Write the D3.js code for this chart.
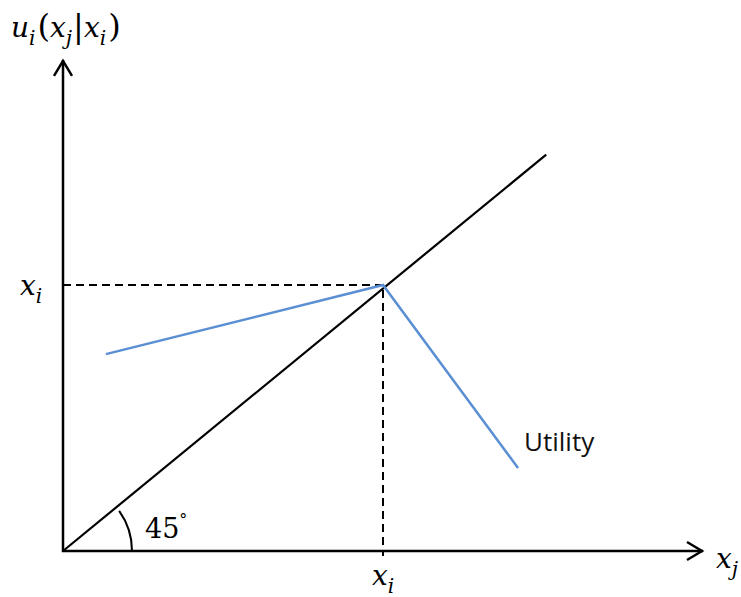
<!DOCTYPE html>
<html><head><meta charset="utf-8">
<script src="https://cdn.jsdelivr.net/npm/d3@7"></script>
<style>body{margin:0;background:#fff}</style>
</head><body>
<svg id="c" width="741" height="597"></svg>
<script>
// Data (units: x_i = 1)
const diagonal = [[0,0],[1.51,1.49]];
const utility = [[0.134,0.74],[1,1],[1.422,0.312]];
const xiValue = 1;
const axisXMax = 2.0;
const axisYMax = 1.846;
const angleLabel = "45";
const seriesLabel = "Utility";

const svg = d3.select("#c");
const x = d3.scaleLinear().domain([0,1]).range([63,383]);
const y = d3.scaleLinear().domain([0,1]).range([551,285]);
const line = d3.line().x(d=>x(d[0])).y(d=>y(d[1]));

// axes
svg.append("path").attr("d", line([[0,axisYMax],[0,0],[axisXMax,0]]))
  .attr("fill","none").attr("stroke","#000").attr("stroke-width",2.5);
// arrowheads
const yt = y(axisYMax), xt = x(axisXMax);
svg.append("path").attr("d",`M${x(0)-9},${yt+16}L${x(0)},${yt+1}L${x(0)+9},${yt+16}`)
  .attr("fill","none").attr("stroke","#000").attr("stroke-width",2.5);
svg.append("path").attr("d",`M${xt-16},${y(0)-9}L${xt-1},${y(0)}L${xt-16},${y(0)+9}`)
  .attr("fill","none").attr("stroke","#000").attr("stroke-width",2.5);

// dashed guides
svg.append("path").attr("d", line([[0,xiValue],[xiValue,xiValue],[xiValue,0]]))
  .attr("fill","none").attr("stroke","#000").attr("stroke-width",2).attr("stroke-dasharray","8,5");
svg.append("line").attr("x1",x(xiValue)).attr("x2",x(xiValue)).attr("y1",y(0)).attr("y2",y(0)+5)
  .attr("stroke","#000").attr("stroke-width",2);

// diagonal
svg.append("path").attr("d", line(diagonal)).attr("fill","none").attr("stroke","#000").attr("stroke-width",2.2);

// utility
svg.append("path").attr("d", line(utility)).attr("fill","none").attr("stroke","#5b8fd3").attr("stroke-width",2.5);

// angle arc
const r = 69;
const arc = d3.arc().innerRadius(r).outerRadius(r).startAngle(Math.PI/2 - 0.62).endAngle(Math.PI/2);
svg.append("path").attr("d", arc()).attr("transform",`translate(${x(0)},${y(0)})`)
  .attr("fill","none").attr("stroke","#000").attr("stroke-width",2);

const serif = "'DejaVu Serif', 'Liberation Serif', serif";
function mathText(px, py, parts, size, anchor){
  const t = svg.append("text").attr("x",px).attr("y",py).attr("font-family",serif)
    .attr("font-size",size).attr("text-anchor",anchor||"start");
  parts.forEach(p=>{
    const s = t.append("tspan").text(p.t);
    if(p.i) s.attr("font-style","italic");
    if(p.sub) s.attr("font-size",size*0.72).attr("dy",size*0.28);
    if(p.up) s.attr("dy",-size*0.28);
    if(p.big) s.attr("font-size",size*1.15);
    if(p.dx) s.attr("dx",p.dx);
  });
  return t;
}
// y-axis title u_i(x_j|x_i)
mathText(11, 37, [
  {t:"u",i:1},{t:"i",i:1,sub:1},{t:"(",up:1,big:1,dx:2},{t:"x",i:1},{t:"j",i:1,sub:1},
  {t:"|",up:1,big:1,dx:1},{t:"x",i:1},{t:"i",i:1,sub:1},{t:")",up:1,big:1,dx:2}
], 28);
// x_i left
mathText(20, 295, [{t:"x",i:1},{t:"i",i:1,sub:1}], 28);
// x_i bottom
mathText(372, 585, [{t:"x",i:1},{t:"i",i:1,sub:1}], 28);
// x_j right
mathText(716, 568, [{t:"x",i:1},{t:"j",i:1,sub:1}], 28);

// 45°
const at = svg.append("text").attr("x",145).attr("y",538).attr("font-family",serif).attr("font-size",27).text(angleLabel);
at.append("tspan").attr("font-size",16).attr("dy",-13).text("°");

// Utility label
svg.append("text").attr("x",524).attr("y",451).attr("font-family","'Open Sans', 'Liberation Sans', sans-serif")
  .attr("font-size",26).attr("fill","#111").text(seriesLabel);
</script>
</body></html>
